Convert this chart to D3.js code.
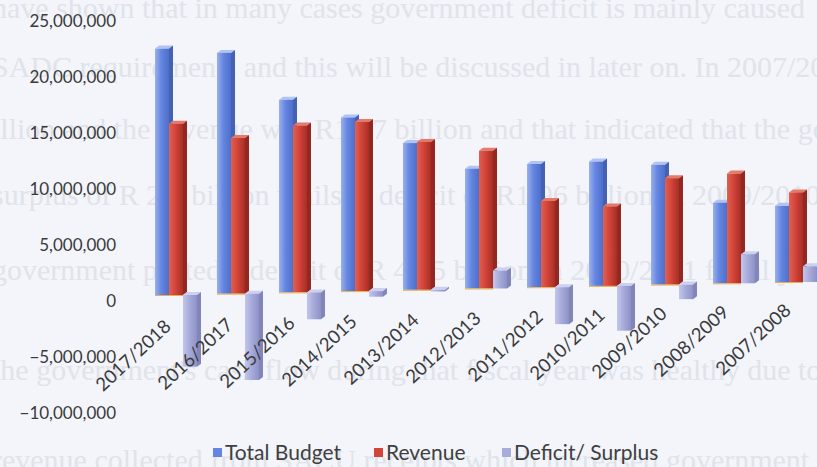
<!DOCTYPE html>
<html>
<head>
<meta charset="utf-8">
<title>Total Budget, Revenue, Deficit/Surplus</title>
<style>
  body { margin: 0; background: #f3f5fa; }
  #chart { display: block; }
  .bgtext { font-family: "Liberation Serif", "DejaVu Serif", serif; font-size: 30px; fill: #e0e3ea; }
  .tick text { font-family: Lato, "Open Sans", sans-serif; font-size: 17px; fill: #3a3a3a; }
  .legend text { font-family: Lato, "Open Sans", sans-serif; font-size: 21px; fill: #404040; }
</style>
<script src="https://cdnjs.cloudflare.com/ajax/libs/d3/7.8.5/d3.min.js"></script>
</head>
<body>
<svg id="chart" width="817" height="467"></svg>
<script>
// data
var categories = ["2017/2018", "2016/2017", "2015/2016", "2014/2015", "2013/2014", "2012/2013",
                  "2011/2012", "2010/2011", "2009/2010", "2008/2009", "2007/2008"];
var seriesNames = ["Total Budget", "Revenue", "Deficit/ Surplus"];
var totalBudget = [22000000, 21500000, 17200000, 15500000, 13100000, 10700000,
                   11000000, 11100000, 10700000, 7200000, 6800000];
var revenue = [15300000, 13900000, 14900000, 15100000, 13200000, 12300000,
               7700000, 7100000, 9500000, 9800000, 8000000];
var deficit = [-6400000, -7700000, -2400000, -500000, -150000, 1600000,
               -3300000, -4000000, -1300000, 2600000, 1400000];
var yTicks = [-10000000, -5000000, 0, 5000000, 10000000, 15000000, 20000000, 25000000];

// faint text of the scanned page behind the chart
var pageLines = [
  "have shown that in many cases government deficit is mainly caused",
  "SADC requirements and this will be discussed in later on. In 2007/2008 the",
  "illion and the revenue was R19.7 billion and that indicated that the go",
  "surplus of R 2.6 billion whilst a deficit of R1.96 billion in 2009/2010",
  "government posted a deficit of R 4.05 billion in 2010/2011 fiscal year",
  "the government's cash flow during that fiscal year was healthy due to",
  "revenue collected from SACU receipts which increased government"
];
var pageLineY = [18, 77, 139, 205, 280, 380, 470];

var svg = d3.select("#chart");

svg.append("g").selectAll("text")
  .data(pageLines)
  .enter().append("text")
  .attr("class", "bgtext")
  .attr("x", -8)
  .attr("y", function(d, i){ return pageLineY[i]; })
  .text(function(d){ return d; });

// scales
var y = d3.scaleLinear().domain([-10000000, 25000000]).range([413, 21]);
var x = d3.scaleBand().domain(categories).range([148, 830]);
var xs = d3.scaleBand().domain(seriesNames).range([7, 49]);

var colors = {
  "Total Budget":    { light: "#9ab0ef", mid: "#6486e0", dark: "#4d6fcc", top: "#b2c2f3", side: "#4461b4" },
  "Revenue":         { light: "#e0604f", mid: "#d3443a", dark: "#a82e26", top: "#e57a6a", side: "#922820" },
  "Deficit/ Surplus":{ light: "#c3c6ea", mid: "#a8acdb", dark: "#8d91c6", top: "#cdd0f0", side: "#8185b8" }
};

var defs = svg.append("defs");
seriesNames.forEach(function(s, i){
  var g = defs.append("linearGradient").attr("id", "grad" + i)
    .attr("x1", "0%").attr("x2", "100%").attr("y1", "0%").attr("y2", "0%");
  g.append("stop").attr("offset", "0%").attr("stop-color", colors[s].light);
  g.append("stop").attr("offset", "45%").attr("stop-color", colors[s].mid);
  g.append("stop").attr("offset", "100%").attr("stop-color", colors[s].dark);
});

// y axis (labels only)
var yAxis = svg.append("g")
  .attr("transform", "translate(116,0)")
  .call(d3.axisLeft(y).tickValues(yTicks).tickFormat(d3.format(",")).tickSize(0).tickPadding(0));
yAxis.select(".domain").remove();

// rows of bars, the floor leans up a little to the right
var depthX = 4, depthY = -3;
var rows = categories.map(function(c, i){
  return { cat: c, i: i, values: [totalBudget[i], revenue[i], deficit[i]] };
});

var groups = svg.append("g").selectAll("g")
  .data(rows)
  .enter().append("g")
  .attr("transform", function(d){ return "translate(" + x(d.cat) + "," + (-6 - 1.3 * d.i) + ")"; });

groups.each(function(row){
  var g = d3.select(this);
  seriesNames.forEach(function(s, k){
    var v = row.values[k];
    var x0 = xs(s), w = xs.bandwidth();
    var yTop = Math.min(y(v), y(0)), yBot = Math.max(y(v), y(0));
    // top face
    g.append("polygon")
      .attr("points", [[x0, yTop], [x0 + depthX, yTop + depthY], [x0 + w + depthX, yTop + depthY], [x0 + w, yTop]].join(" "))
      .attr("fill", colors[s].top);
    // side face
    g.append("polygon")
      .attr("points", [[x0 + w, yTop], [x0 + w + depthX, yTop + depthY], [x0 + w + depthX, yBot + depthY], [x0 + w, yBot]].join(" "))
      .attr("fill", colors[s].side);
    // front face
    g.append("rect")
      .attr("x", x0).attr("y", yTop)
      .attr("width", w).attr("height", Math.max(1, yBot - yTop))
      .attr("fill", "url(#grad" + k + ")");
  });
  // thin floor edge under the bars
  g.append("line")
    .attr("x1", xs("Total Budget")).attr("x2", xs("Revenue") + xs.bandwidth())
    .attr("y1", y(0) + 0.5).attr("y2", y(0) + 0.5)
    .attr("stroke", "#e8b04a").attr("stroke-width", 1);
});

// category labels, rotated
svg.append("g").selectAll("text")
  .data(categories)
  .enter().append("text")
  .attr("transform", function(d, i){
    return "translate(" + (x(d) + 24) + "," + (328 - 1.6 * i) + ") rotate(-43)";
  })
  .attr("text-anchor", "end")
  .style("font-family", "Lato, 'Open Sans', sans-serif")
  .style("font-size", "18.5px")
  .style("fill", "#3a3a3a")
  .text(function(d){ return d; });

// legend
var legendX = [213, 374, 502];
var legend = svg.append("g").attr("class", "legend");
seriesNames.forEach(function(s, k){
  legend.append("rect")
    .attr("x", legendX[k]).attr("y", 448)
    .attr("width", 9).attr("height", 9)
    .attr("fill", colors[s].mid);
  legend.append("text")
    .attr("x", legendX[k] + 12).attr("y", 460)
    .text(s);
});
</script>
</body>
</html>
